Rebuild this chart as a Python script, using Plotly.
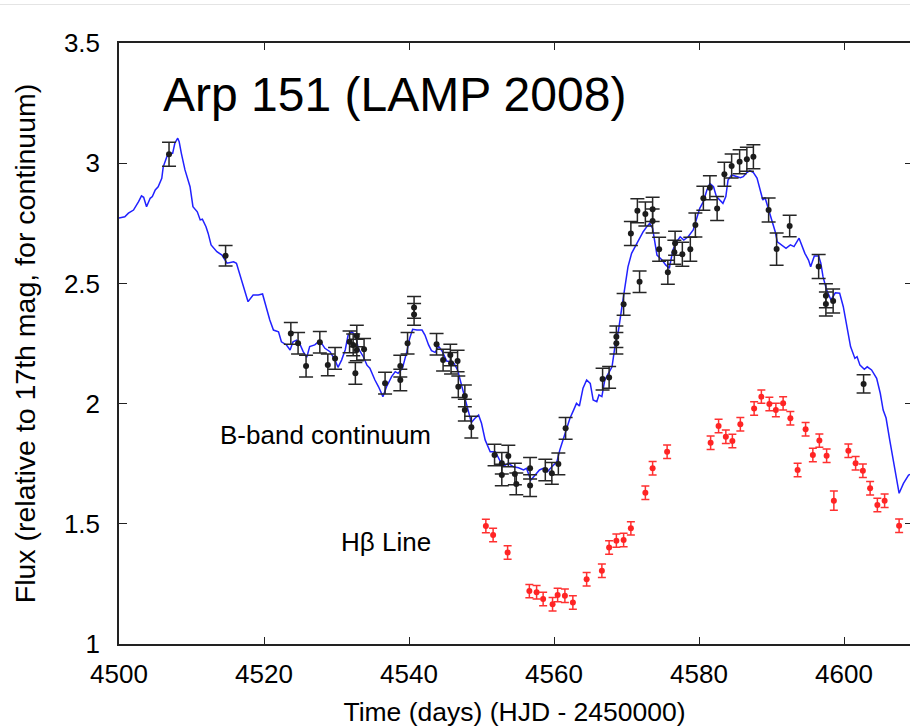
import plotly.graph_objects as go

# ---- B-band continuum model (blue line) ----
model_x = [4500.0, 4500.8, 4501.3, 4502.0, 4502.7, 4503.1, 4503.4, 4503.8, 4504.3, 4504.6,
           4505.0, 4505.4, 4505.9, 4506.1, 4506.6, 4507.0, 4507.4, 4507.7, 4508.1, 4508.3,
           4508.6, 4509.1, 4509.8, 4510.2, 4510.8, 4511.2, 4511.5, 4512.0, 4512.3, 4512.7,
           4513.5, 4514.2, 4514.9, 4515.8, 4516.2, 4516.9, 4517.4, 4517.8, 4518.5, 4519.2,
           4519.8, 4520.4, 4520.8, 4521.3, 4522.0, 4522.4, 4523.1, 4523.6, 4524.0, 4524.5,
           4525.0, 4525.4, 4525.9, 4526.3, 4527.0, 4527.7, 4528.4, 4529.1, 4529.8, 4530.2,
           4530.7, 4531.2, 4531.6, 4532.1, 4532.6, 4533.0, 4533.7, 4534.2, 4534.6, 4535.3,
           4535.8, 4536.4, 4536.9, 4537.6, 4538.1, 4538.5, 4539.1, 4539.7, 4540.1, 4540.5,
           4541.1, 4541.8, 4542.2, 4542.7, 4543.1, 4543.6, 4544.1, 4544.6, 4545.2, 4545.7,
           4546.2, 4546.7, 4547.2, 4547.6, 4548.1, 4548.6, 4549.1, 4549.6, 4550.0, 4550.5,
           4551.2, 4551.9, 4552.5, 4553.1, 4553.7, 4554.4, 4555.1, 4555.8, 4556.2, 4556.8,
           4557.4, 4558.0, 4558.5, 4559.1, 4559.7, 4560.4, 4560.8, 4561.3, 4561.8, 4562.2,
           4562.7, 4563.1, 4563.5, 4564.0, 4564.5, 4565.0, 4565.4, 4565.9, 4566.2, 4566.6,
           4567.0, 4567.5, 4568.0, 4568.4, 4568.9, 4569.3, 4569.8, 4570.2, 4570.7, 4571.4,
           4571.9, 4572.3, 4572.8, 4573.2, 4573.6, 4573.9, 4574.2, 4574.9, 4575.4, 4575.9,
           4576.4, 4576.9, 4577.4, 4577.9, 4578.5, 4579.2, 4579.7, 4580.1, 4580.6, 4581.1,
           4581.5, 4582.0, 4582.4, 4582.9, 4583.3, 4583.7, 4584.0, 4584.5, 4585.2, 4585.7,
           4586.1, 4586.6, 4587.0, 4587.5, 4588.0, 4588.4, 4588.8, 4589.1, 4589.6, 4590.0,
           4590.5, 4590.8, 4591.4, 4592.0, 4592.6, 4593.1, 4593.8, 4594.2, 4594.6, 4595.1,
           4595.4, 4595.9, 4596.5, 4596.8, 4597.1, 4597.6, 4598.2, 4598.8, 4599.4, 4599.9,
           4600.4, 4600.9, 4601.5, 4601.8, 4602.2, 4602.8, 4603.2, 4603.8, 4604.5, 4605.0,
           4605.4, 4605.8, 4606.3, 4607.0, 4607.6, 4608.2, 4608.9, 4609.3]
model_y = [2.772, 2.777, 2.792, 2.805, 2.840, 2.864, 2.858, 2.819, 2.854, 2.861,
           2.889, 2.902, 2.937, 2.985, 3.027, 3.041, 3.041, 3.083, 3.104, 3.089,
           3.041, 2.972, 2.902, 2.819, 2.798, 2.764, 2.767, 2.736, 2.708, 2.660,
           2.632, 2.618, 2.584, 2.590, 2.584, 2.514, 2.473, 2.424, 2.452, 2.452,
           2.456, 2.389, 2.348, 2.306, 2.299, 2.257, 2.244, 2.223, 2.257, 2.264,
           2.244, 2.216, 2.193, 2.237, 2.244, 2.262, 2.230, 2.216, 2.181, 2.151,
           2.181, 2.223, 2.285, 2.299, 2.285, 2.230, 2.195, 2.160, 2.147, 2.098,
           2.070, 2.029, 2.070, 2.112, 2.133, 2.126, 2.147, 2.216, 2.272, 2.309,
           2.306, 2.306, 2.285, 2.244, 2.220, 2.213, 2.238, 2.216, 2.177, 2.174,
           2.167, 2.140, 2.084, 2.029, 1.977, 1.921, 1.939, 1.952, 1.918, 1.849,
           1.800, 1.800, 1.765, 1.740, 1.752, 1.737, 1.733, 1.724, 1.731, 1.682,
           1.703, 1.724, 1.731, 1.717, 1.737, 1.758, 1.807, 1.856, 1.897, 1.939,
           1.973, 2.001, 1.990, 2.064, 2.098, 2.084, 2.015, 2.008, 2.036, 2.029,
           2.098, 2.126, 2.153, 2.237, 2.306, 2.389, 2.486, 2.569, 2.625, 2.667,
           2.694, 2.715, 2.736, 2.750, 2.729, 2.680, 2.618, 2.597, 2.577, 2.563,
           2.639, 2.673, 2.694, 2.680, 2.694, 2.722, 2.777, 2.812, 2.840, 2.889,
           2.916, 2.902, 2.861, 2.847, 2.833, 2.861, 2.930, 2.951, 2.944, 2.940,
           2.944, 2.961, 2.969, 2.961, 2.938, 2.896, 2.847, 2.857, 2.805, 2.757,
           2.716, 2.673, 2.660, 2.646, 2.660, 2.653, 2.688, 2.653, 2.625, 2.597,
           2.569, 2.614, 2.614, 2.584, 2.528, 2.473, 2.431, 2.461, 2.459, 2.403,
           2.320, 2.237, 2.188, 2.195, 2.160, 2.143, 2.153, 2.140, 2.105, 2.043,
           1.973, 1.940, 1.849, 1.724, 1.627, 1.668, 1.703, 1.707]

# ---- B-band continuum measurements (black points) ----
cont_x = [4506.9, 4514.7, 4523.7, 4524.7, 4525.8, 4527.7, 4528.8, 4529.8, 4531.8, 4532.3,
          4532.8, 4532.8, 4532.6, 4533.8, 4536.7, 4538.8, 4538.8, 4539.8, 4540.7, 4540.7,
          4543.8, 4544.7, 4545.7, 4545.8, 4546.7, 4546.8, 4547.7, 4547.7, 4548.6, 4551.8,
          4552.8, 4552.8, 4553.7, 4554.6, 4554.8, 4556.7, 4556.7, 4558.8, 4559.7, 4560.6,
          4561.6, 4566.7, 4567.6, 4568.6, 4568.6, 4569.6, 4571.8, 4570.6, 4571.5, 4572.6,
          4573.6, 4573.6, 4574.5, 4575.7, 4576.7, 4576.6, 4577.7, 4578.8, 4579.5, 4580.6,
          4581.5, 4582.5, 4583.5, 4584.5, 4585.6, 4586.6, 4587.5, 4589.6, 4590.7, 4592.5,
          4596.5, 4597.5, 4597.5, 4598.5, 4602.7]
cont_y = [3.037, 2.615, 2.292, 2.251, 2.156, 2.255, 2.161, 2.188, 2.257, 2.244,
          2.281, 2.223, 2.126, 2.226, 2.085, 2.156, 2.098, 2.251, 2.400, 2.371,
          2.247, 2.181, 2.202, 2.168, 2.177, 2.070, 2.032, 1.973, 1.902, 1.786,
          1.752, 1.703, 1.782, 1.707, 1.666, 1.731, 1.659, 1.724, 1.710, 1.749,
          1.897, 2.102, 2.109, 2.251, 2.278, 2.413, 2.507, 2.708, 2.802, 2.789,
          2.808, 2.760, 2.642, 2.546, 2.667, 2.630, 2.621, 2.642, 2.743, 2.854,
          2.898, 2.812, 2.954, 2.988, 3.006, 3.016, 3.027, 2.805, 2.643, 2.739,
          2.570, 2.449, 2.414, 2.427, 2.082]
cont_err = [0.050, 0.043, 0.045, 0.045, 0.045, 0.045, 0.045, 0.045, 0.045, 0.045,
            0.045, 0.045, 0.045, 0.045, 0.045, 0.045, 0.045, 0.045, 0.045, 0.045,
            0.045, 0.045, 0.045, 0.045, 0.045, 0.045, 0.045, 0.045, 0.045, 0.045,
            0.045, 0.045, 0.045, 0.045, 0.045, 0.045, 0.045, 0.045, 0.045, 0.045,
            0.045, 0.045, 0.045, 0.045, 0.045, 0.045, 0.045, 0.050, 0.050, 0.050,
            0.050, 0.050, 0.050, 0.050, 0.050, 0.050, 0.050, 0.050, 0.050, 0.050,
            0.050, 0.050, 0.050, 0.050, 0.050, 0.050, 0.050, 0.050, 0.067, 0.045,
            0.050, 0.050, 0.050, 0.050, 0.038]

# ---- H-beta line measurements (red points) ----
hb_x = [4550.6, 4551.6, 4553.6, 4556.6, 4557.6, 4558.5, 4559.8, 4560.5, 4561.5, 4562.6,
        4564.5, 4566.6, 4567.6, 4568.6, 4569.6, 4570.6, 4572.6, 4573.6, 4575.6, 4581.6,
        4582.7, 4583.7, 4584.6, 4585.7, 4587.6, 4588.6, 4589.7, 4590.6, 4591.6, 4592.6,
        4593.6, 4594.7, 4595.7, 4596.6, 4597.6, 4598.6, 4600.6, 4601.6, 4602.6, 4603.6,
        4604.6, 4605.6, 4607.6]
hb_y = [1.491, 1.453, 1.381, 1.220, 1.215, 1.187, 1.165, 1.204, 1.201, 1.173,
        1.269, 1.305, 1.401, 1.430, 1.433, 1.481, 1.629, 1.731, 1.800, 1.837,
        1.907, 1.862, 1.844, 1.914, 1.980, 2.029, 1.998, 1.973, 2.001, 1.939,
        1.724, 1.893, 1.786, 1.846, 1.783, 1.596, 1.804, 1.752, 1.721, 1.648,
        1.578, 1.596, 1.492]
hb_err = [0.028] * 35 + [0.040] + [0.028] * 7

x_ticks = [4500, 4520, 4540, 4560, 4580, 4600]
y_ticks = [1, 1.5, 2, 2.5, 3, 3.5]

FONT = "Liberation Sans, Arial, sans-serif"

fig = go.Figure()
fig.add_trace(go.Scatter(x=model_x, y=model_y, mode="lines",
                         line=dict(color="#2121ff", width=1.5), showlegend=False))
fig.add_trace(go.Scatter(x=cont_x, y=cont_y, mode="markers",
                         marker=dict(color="#1c1c1c", size=6),
                         error_y=dict(type="data", array=cont_err, color="#262626",
                                      thickness=1.5, width=7),
                         showlegend=False))
fig.add_trace(go.Scatter(x=hb_x, y=hb_y, mode="markers",
                         marker=dict(color="#ff2424", size=6),
                         error_y=dict(type="data", array=hb_err, color="#ff3030",
                                      thickness=1.5, width=4),
                         showlegend=False))
# right-hand inward ticks (no frame line)
fig.add_trace(go.Scatter(x=[None], y=[None], yaxis="y2", showlegend=False))

fig.add_annotation(x=4505.8, y=3.284, xref="x", yref="y", text="Arp 151 (LAMP 2008)",
                   showarrow=False, xanchor="left", yanchor="middle",
                   font=dict(family=FONT, size=48, color="#000"))
fig.add_annotation(x=4513.6, y=1.869, xref="x", yref="y", text="B-band continuum",
                   showarrow=False, xanchor="left", yanchor="middle",
                   font=dict(family=FONT, size=26, color="#000"))
fig.add_annotation(x=4530.4, y=1.424, xref="x", yref="y", text="Hβ Line",
                   showarrow=False, xanchor="left", yanchor="middle",
                   font=dict(family=FONT, size=26, color="#000"))

fig.add_shape(type="line", xref="paper", yref="paper", x0=-0.2, x1=1.0,
              y0=1.064, y1=1.064, line=dict(color="#e4e4e4", width=1))

fig.update_layout(
    width=910, height=727,
    margin=dict(l=119, r=0, t=43, b=83),
    paper_bgcolor="white", plot_bgcolor="white",
    font=dict(family=FONT, size=26, color="#000"),
    xaxis=dict(range=[4500, 4609.1], tickvals=x_ticks, ticks="inside", ticklen=7,
               tickwidth=1.3, tickcolor="#222", showline=True, linecolor="#222",
               linewidth=1.5, mirror="ticks", showgrid=False, zeroline=False,
               ticklabelstandoff=6,
               title=dict(text="Time (days) (HJD - 2450000)", standoff=14,
                          font=dict(size=26.5))),
    yaxis=dict(range=[1, 3.5], tickvals=y_ticks, ticks="inside", ticklen=8,
               tickwidth=1.3, tickcolor="#222", showline=True, linecolor="#222",
               linewidth=1.5, mirror=False, showgrid=False, zeroline=False,
               ticklabelstandoff=12,
               title=dict(text="Flux (relative to 17th mag, for continuum)",
                          standoff=20, font=dict(size=28.5))),
    yaxis2=dict(range=[1, 3.5], tickvals=y_ticks, ticks="inside", ticklen=5,
                tickwidth=1.3, tickcolor="#222", showline=False, showgrid=False,
                zeroline=False, showticklabels=False, overlaying="y", side="right",
                matches="y"),
)

fig.write_html("out.html")
